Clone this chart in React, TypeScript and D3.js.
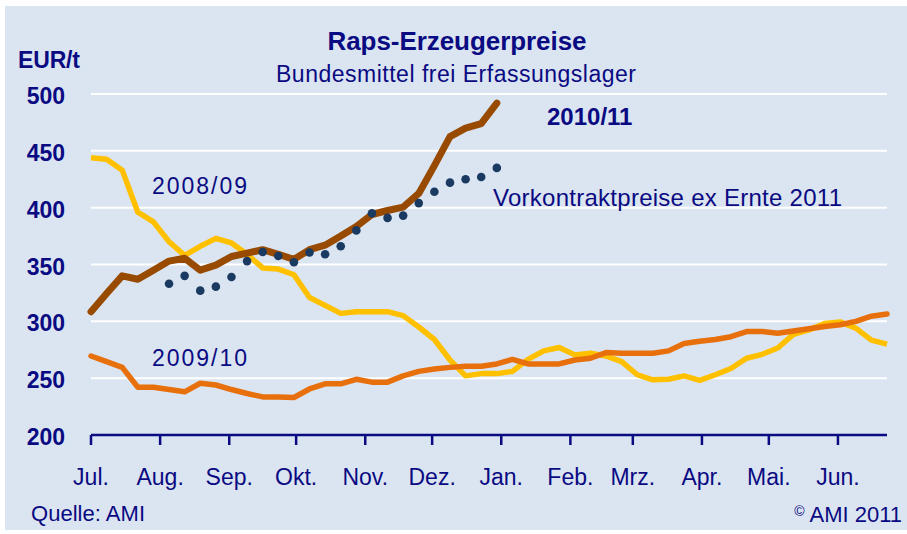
import React from "react";
import * as d3 from "d3";

// ---- data (EUR/t, weekly from 1 July) ----
const monthLabels = ["Jul.", "Aug.", "Sep.", "Okt.", "Nov.", "Dez.", "Jan.", "Feb.", "Mrz.", "Apr.", "Mai.", "Jun."];
const yTicks = [200, 250, 300, 350, 400, 450, 500];

const prices0809 = [
  444, 442.5, 433, 396, 387.5, 370, 358, 366, 373, 369, 359, 347, 346, 341, 321, 314, 307, 308.5, 308.5, 308.5,
  305, 295, 284, 266, 252, 254, 254, 256, 266.5, 274, 277, 270.5, 272, 269.5, 264.5, 253, 248.5, 249, 252, 248,
  253, 258.5, 267.5, 271, 276.5, 288.5, 292.5, 298, 299.5, 294, 283.5, 280,
];
const prices0910 = [
  269.5, 264.5, 259.5, 242, 242, 240, 238, 245.5, 244, 240, 236.5, 233.5, 233.5, 233, 240.5, 245, 245, 249, 246.5, 246.5,
  252, 256, 258, 259.5, 260.5, 260.5, 262.5, 266.5, 262.5, 262.5, 262.5, 266, 267.5, 272.5, 272, 272, 272, 274, 280.5, 282.5,
  284, 286.5, 291, 291, 289.5, 291.5, 293.5, 295.5, 297, 300, 304.5, 306.5,
];
const prices1011 = [
  308.5, 324.5, 340, 337, 345, 353, 355.5, 345, 349.5, 357, 360, 363, 359, 354.5, 363, 367, 375, 383.5, 394, 397.5,
  400.5, 412.5, 437, 462.5, 470, 474, 492,
];
const contractStartWeek = 5;
const contract2011 = [
  333, 340, 327, 330.5, 339, 353, 361, 357.5, 352, 360.5, 359, 366, 380, 395, 391, 393, 404, 414, 422, 425, 427, 435,
];

// ---- layout ----
const W = 907;
const H = 534;
const NAVY = "#0a0a82";
const FONT = "'Liberation Sans', Arial, sans-serif";

const startDate = new Date(Date.UTC(2010, 6, 1));
const endDate = new Date(Date.UTC(2011, 5, 23));
const weekDate = (i: number) => d3.utcDay.offset(startDate, i * 7);

const x = d3.scaleUtc().domain([startDate, endDate]).range([91, 887]);
const y = d3.scaleLinear().domain([200, 500]).range([435, 94]);

type Pt = { i: number; v: number };
const toPts = (arr: number[], offset = 0): Pt[] => arr.map((v, k) => ({ i: k + offset, v }));

const line = d3
  .line<Pt>()
  .x((d) => x(weekDate(d.i)))
  .y((d) => y(d.v));

const monthTicks = d3.utcMonth.range(startDate, d3.utcMonth.offset(startDate, 12));

export default function App() {
  return (
    <div style={{ position: "absolute", left: 0, top: 0 }}>
      <svg width={W} height={H} style={{ display: "block" }} fontFamily={FONT}>
        <rect x={0} y={0} width={W} height={H} fill="#ffffff" />
        <rect x={5} y={6} width={W - 5} height={524} fill="#dbe5f1" />

        {/* gridlines */}
        {yTicks
          .filter((t) => t > 200)
          .map((t) => (
            <line key={t} x1={x.range()[0]} x2={x.range()[1]} y1={y(t)} y2={y(t)} stroke="#ffffff" strokeWidth={2} />
          ))}

        {/* y labels */}
        {yTicks.map((t) => (
          <text key={t} x={65} y={y(t) + 10} textAnchor="end" fontSize={23} fontWeight="bold" fill={NAVY}>
            {t}
          </text>
        ))}
        <text x={18} y={68} fontSize={23} fontWeight="bold" fill={NAVY} textLength={62}>
          EUR/t
        </text>

        {/* x axis */}
        <line x1={x.range()[0]} x2={x.range()[1]} y1={y(200)} y2={y(200)} stroke={NAVY} strokeWidth={2.5} />
        {monthTicks.map((d, k) => (
          <g key={k}>
            <line x1={x(d)} x2={x(d)} y1={y(200)} y2={y(200) + 10} stroke={NAVY} strokeWidth={2.5} />
            <text x={x(d)} y={485} textAnchor="middle" fontSize={23} fill={NAVY}>
              {monthLabels[k]}
            </text>
          </g>
        ))}

        {/* series */}
        <path d={line(toPts(prices0809)) || ""} fill="none" stroke="#ffc000" strokeWidth={5.5} strokeLinejoin="round" />
        <path d={line(toPts(prices0910)) || ""} fill="none" stroke="#e8700c" strokeWidth={5.5} strokeLinejoin="round" strokeLinecap="round" />
        <path d={line(toPts(prices1011)) || ""} fill="none" stroke="#974a00" strokeWidth={7} strokeLinejoin="round" strokeLinecap="round" />
        {toPts(contract2011, contractStartWeek).map((d) => (
          <circle key={d.i} cx={x(weekDate(d.i))} cy={y(d.v)} r={4.3} fill="#1b3a62" />
        ))}

        {/* titles and labels */}
        <text x={457} y={50} textAnchor="middle" fontSize={26} fontWeight="bold" fill={NAVY} textLength={259}>
          Raps-Erzeugerpreise
        </text>
        <text x={456} y={82} textAnchor="middle" fontSize={23} fill={NAVY} textLength={360}>
          Bundesmittel frei Erfassungslager
        </text>
        <text x={547} y={125} fontSize={24} fontWeight="bold" fill={NAVY}>
          2010/11
        </text>
        <text x={152} y={194} fontSize={23} fill={NAVY} textLength={95}>
          2008/09
        </text>
        <text x={152} y={366} fontSize={23} fill={NAVY} textLength={95}>
          2009/10
        </text>
        <text x={493} y={206} fontSize={24} fill={NAVY} textLength={349}>
          Vorkontraktpreise ex Ernte 2011
        </text>
        <text x={31} y={521} fontSize={22} fill={NAVY} textLength={114}>
          Quelle: AMI
        </text>
        <text x={902} y={522} textAnchor="end" fontSize={22} fill={NAVY}>
          <tspan fontSize={14} dy={-6}>©</tspan>
          <tspan dy={6}> AMI 2011</tspan>
        </text>
      </svg>
    </div>
  );
}
